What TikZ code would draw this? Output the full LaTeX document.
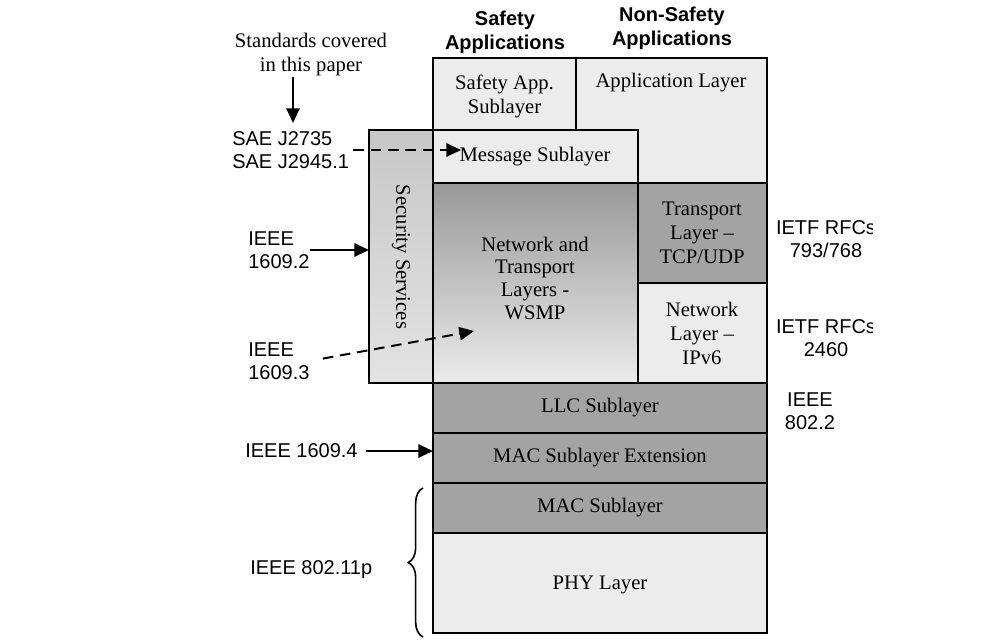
\documentclass[tikz,border=0pt]{standalone}
\usepackage{fontspec}
\setmainfont{Liberation Serif}
\newfontfamily\arialfont{Liberation Sans}
\usetikzlibrary{arrows.meta,decorations.pathreplacing}

\definecolor{layerlight}{gray}{0.925}
\definecolor{layerdark}{gray}{0.64}
\definecolor{nettop}{gray}{0.6}
\definecolor{netbottom}{gray}{0.92}
\definecolor{sectop}{gray}{0.78}
\definecolor{secbottom}{gray}{0.89}

\tikzset{
  layer/.style={draw=black, line width=1.5pt},
  boxtext/.style={font=\fontsize{15.5}{18}\selectfont, align=center, inner sep=0pt},
  lbl/.style={font=\arialfont\fontsize{15}{17.5}\selectfont, align=left, inner sep=0pt},
  headtext/.style={font=\arialfont\bfseries\fontsize{15}{18}\selectfont, align=center, inner sep=0pt},
  arr/.style={line width=1.5pt, -{Triangle[length=11pt,width=10pt]}},
  dasharr/.style={arr, dash pattern=on 8pt off 5pt},
}

\begin{document}
\begin{tikzpicture}[x=0.75pt,y=-0.75pt]
      \useasboundingbox (0,0) rectangle (981,642);

      \fill[layerlight] (433,58) rectangle (576,130);
      \fill[layerlight] (576,58) -- (767,58) -- (767,183) -- (638,183) -- (638,130) -- (576,130) -- cycle;
      \fill[layerlight] (433,130) rectangle (638,183);
      \shade[top color=sectop, bottom color=secbottom] (369,130) rectangle (433,383);
      \shade[top color=nettop, bottom color=netbottom] (433,183) rectangle (638,383);
      \fill[layerdark] (638,183) rectangle (767,283);
      \fill[layerlight] (638,283) rectangle (767,383);
      \fill[layerdark] (433,383) rectangle (767,533);
      \fill[layerlight] (433,533) rectangle (767,633);

      \draw[layer] (433,58) rectangle (576,130);
      \draw[layer] (576,58) -- (767,58) -- (767,183) -- (638,183) -- (638,130) -- (576,130) -- cycle;
      \draw[layer] (369,130) rectangle (433,383);
      \draw[layer] (433,130) rectangle (638,183);
      \draw[layer] (433,183) rectangle (638,383);
      \draw[layer] (638,183) rectangle (767,283);
      \draw[layer] (638,283) rectangle (767,383);
      \draw[layer] (433,383) rectangle (767,433);
      \draw[layer] (433,433) rectangle (767,483);
      \draw[layer] (433,483) rectangle (767,533);
      \draw[layer] (433,533) rectangle (767,633);

      \node[headtext] (safetyhd) at (505,32) {Safety\\Applications};
      \node[headtext] (nonsafetyhd) at (672,28) {Non-Safety\\Applications};

      \node[boxtext] (safeapp) at (504.5,96) {Safety App.\\Sublayer};
      \node[boxtext] (applayer) at (671,83) {Application Layer};
      \node[boxtext] (msg) at (535,157) {Message Sublayer};
      \node[boxtext, rotate=-90] (sec) at (401,257) {Security Services};
      \node[boxtext, font=\fontsize{15.5}{17}\selectfont] (wsmp) at (535,278) {Network and\\Transport\\Layers -\\WSMP};
      \node[boxtext] (tcp) at (702,233) {Transport\\Layer --\\TCP/UDP};
      \node[boxtext] (ipv6) at (702,333) {Network\\Layer --\\IPv6};
      \node[boxtext] (llc) at (600,408) {LLC Sublayer};
      \node[boxtext] (macext) at (600,458) {MAC Sublayer Extension};
      \node[boxtext] (mac) at (600,508) {MAC Sublayer};
      \node[boxtext] (phy) at (600,585) {PHY Layer};

      \node[boxtext] (std) at (311,55) {Standards covered\\in this paper};
      \node[lbl, anchor=west] (sae) at (232,150) {SAE J2735\\SAE J2945.1};
      \node[lbl, anchor=west] (ieeeTwo) at (248,250) {IEEE\\1609.2};
      \node[lbl, anchor=west] (ieeeThree) at (248,361) {IEEE\\1609.3};
      \node[lbl, anchor=west] (ieeeFour) at (245,451) {IEEE 1609.4};
      \node[lbl, anchor=west] (ieeeP) at (250,570) {IEEE 802.11p};

      \begin{scope}
        \clip (0,0) rectangle (872,642);
        \node[lbl, align=center] (rfcTcp) at (826,239) {IETF RFCs\\793/768};
        \node[lbl, align=center] (rfcIp) at (826,338) {IETF RFCs\\2460};
      \end{scope}
      \node[lbl, align=center] (llcstd) at (810,411) {IEEE\\802.2};

      \coordinate (stdtip) at (293,123);
      \coordinate (msgtip) at (461,150);
      \coordinate (secin) at (369,250);
      \coordinate (wsmptip) at (474,331);
      \coordinate (macextin) at (433,451);

      \draw[arr] (stdtip |- std.south) -- (stdtip);
      \draw[dasharr, shorten <=3pt] (sae.east) -- (msgtip);
      \draw[arr] (ieeeTwo.east) -- (secin);
      \draw[dasharr, shorten <=10pt] (ieeeThree.east) -- (wsmptip);
      \draw[arr, shorten <=6pt] (ieeeFour.east) -- (macextin);

      \draw[line width=1.2pt, decorate, decoration={brace, amplitude=11pt}] (423,637) -- (423,488);
    \end{tikzpicture}
\end{document}
